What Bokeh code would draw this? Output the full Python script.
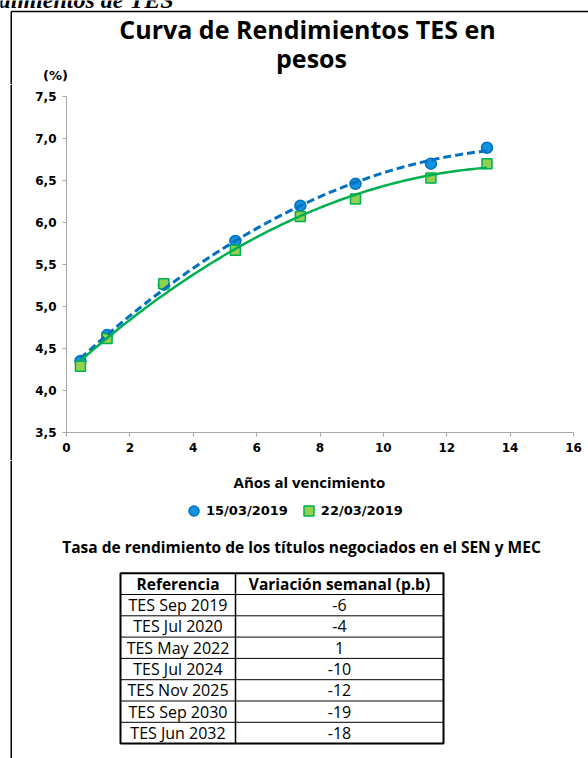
import numpy as np
from bokeh.plotting import figure
from bokeh.models import (Range1d, FixedTicker, CustomJSTickFormatter,
                          Legend, LegendItem, ColumnDataSource)
from bokeh.layouts import column, row
from bokeh.embed import file_html
from bokeh.resources import INLINE
from bokeh.core.properties import value

# ---------------- data ----------------
years = [0.44, 1.28, 3.07, 5.33, 7.38, 9.12, 11.50, 13.27]
y_1503 = [4.35, 4.66, 5.26, 5.78, 6.20, 6.46, 6.70, 6.89]
y_2203 = [4.29, 4.62, 5.27, 5.67, 6.07, 6.28, 6.53, 6.70]
series_names = ["15/03/2019", "22/03/2019"]
x_ticks = [0, 2, 4, 6, 8, 10, 12, 14, 16]
y_ticks = [3.5, 4.0, 4.5, 5.0, 5.5, 6.0, 6.5, 7.0, 7.5]
page_heading = "Rendimientos de TES"
title_lines = ["Curva de Rendimientos TES en", "pesos"]
y_unit = "(%)"
x_title = "Años al vencimiento"
table_title = "Tasa de rendimiento de los títulos negociados en el SEN y MEC"
table_header = ["Referencia", "Variación semanal (p.b)"]
ref_names = ["TES Sep 2019", "TES Jul 2020", "TES May 2022", "TES Jul 2024",
             "TES Nov 2025", "TES Sep 2030", "TES Jun 2032"]
weekly_change = [-6, -4, 1, -10, -12, -19, -18]

# ---------------- styles ----------------
BLUE_LINE = "#0070C0"
BLUE_FILL = "#1392E0"
GREEN_LINE = "#00B050"
GREEN_FILL = "#92D050"
AXIS_GRAY = "#A6A6A6"
TITLE_FONT = "Open Sans"
TICK_FONT = "DejaVu Sans"
BOX_X = 10.75      # left edge of the report box (page px)
BOX_Y = 11         # top edge of the report box (page px)

PAGE_W = 588
H0, H1, H2 = 84, 376, 298
BW = 12            # width of the strip that carries the box edge beside the chart


def blank(width, height, x0, x1, y_top, y_bottom):
    f = figure(width=width, height=height, x_range=Range1d(x0, x1),
               y_range=Range1d(y_bottom, y_top), output_backend="svg",
               toolbar_location=None, min_border=0,
               x_axis_location=None, y_axis_location=None)
    f.grid.visible = False
    f.outline_line_color = None
    return f


# ---------------- header strip (page coordinates) ----------------
t0 = blank(PAGE_W, H0, 0, PAGE_W, 0, H0)
t0.text(x=[173], y=[-1], text=[page_heading], text_align="right",
        text_baseline="middle", text_font=value("Liberation Serif"),
        text_font_style="bold italic", text_font_size="24px", text_color="black")
t0.segment(x0=[BOX_X, BOX_X], y0=[BOX_Y, BOX_Y], x1=[PAGE_W, BOX_X], y1=[BOX_Y, H0],
           line_color="black", line_width=1.5)
t0.text(x=[307, 311], y=[28.5, 57], text=title_lines, text_align="center",
        text_baseline="middle", text_font=value(TITLE_FONT),
        text_font_style="bold", text_font_size="25px", text_color="black")
t0.text(x=[55], y=[75], text=[y_unit], text_align="center", text_baseline="middle",
        text_font=value(TICK_FONT), text_font_style="bold", text_font_size="13px",
        text_color="black")

# ---------------- strip beside the chart ----------------
bstrip = blank(BW, H1, 0, BW, H0, H0 + H1)
bstrip.segment(x0=[BOX_X], y0=[H0], x1=[BOX_X], y1=[H0 + H1], line_color="black",
               line_width=1.5)

# ---------------- chart ----------------
p = figure(width=PAGE_W - BW, height=H1, x_range=Range1d(0, 16),
           y_range=Range1d(3.5, 7.5), output_backend="svg", toolbar_location=None,
           title=None, min_border_left=54, min_border_right=15, min_border_top=12,
           min_border_bottom=28)
p.grid.visible = False
p.outline_line_color = None

for ax in (p.xaxis[0], p.yaxis[0]):
    ax.axis_line_color = AXIS_GRAY
    ax.major_tick_line_color = AXIS_GRAY
    ax.major_tick_out = 4
    ax.major_tick_in = 0
    ax.minor_tick_line_color = None
    ax.major_label_text_font = TICK_FONT
    ax.major_label_text_font_style = "bold"
    ax.major_label_text_font_size = "12px"
    ax.major_label_text_color = "black"

p.xaxis.ticker = FixedTicker(ticks=x_ticks)
p.yaxis.ticker = FixedTicker(ticks=y_ticks)
p.yaxis.formatter = CustomJSTickFormatter(code="return tick.toFixed(1).replace('.', ',');")
p.xaxis.major_label_standoff = 6
p.yaxis.major_label_standoff = 6

src1 = ColumnDataSource(dict(x=years, y=y_1503))
src2 = ColumnDataSource(dict(x=years, y=y_2203))
marker1 = dict(marker="circle", fill_color=BLUE_FILL, line_color=BLUE_LINE, line_width=1.5)
marker2 = dict(marker="square", fill_color=GREEN_FILL, line_color=GREEN_LINE, line_width=1.5)

p.scatter("x", "y", source=src1, size=11, **marker1)
p.scatter("x", "y", source=src2, size=10, **marker2)

# polynomial (order 2) trendlines, as in the original spreadsheet chart
xs = np.linspace(min(years), max(years), 120)
fit1 = np.polyval(np.polyfit(years, y_1503, 2), xs)
fit2 = np.polyval(np.polyfit(years, y_2203, 2), xs)
p.line(xs, fit1, line_color=BLUE_LINE, line_width=3, line_dash="8 4")
p.line(xs, fit2, line_color=GREEN_LINE, line_width=2.5)

# ---------------- lower strip: axis title, legend, table (page coordinates) ----------------
Y0 = H0 + H1
t = blank(PAGE_W, H2, 0, PAGE_W, Y0, Y0 + H2)
t.segment(x0=[BOX_X], y0=[Y0], x1=[BOX_X], y1=[Y0 + H2], line_color="black",
          line_width=1.5)
t.text(x=[309], y=[481], text=[x_title], text_align="center", text_baseline="middle",
       text_font=value(TITLE_FONT), text_font_style="bold", text_font_size="15px",
       text_color="black")

# legend swatches: renderers with no drawable point, only used for the legend keys
nan = float("nan")
proxy1 = t.scatter(x=[nan], y=[nan], **marker1)
proxy2 = t.scatter(x=[nan], y=[nan], **marker2)
legend = Legend(items=[LegendItem(label=series_names[0], renderers=[proxy1]),
                       LegendItem(label=series_names[1], renderers=[proxy2])],
                location=(181, 235.5), orientation="horizontal")
legend.border_line_color = None
legend.background_fill_alpha = 0
legend.padding = 0
legend.margin = 0
legend.spacing = 8
legend.label_standoff = 0
legend.glyph_width = 25
legend.glyph_height = 25
legend.label_text_font = TICK_FONT
legend.label_text_font_style = "bold"
legend.label_text_font_size = "13px"
legend.label_text_color = "black"
legend.label_text_baseline = "middle"
t.add_layout(legend)

t.text(x=[301], y=[546], text=[table_title], text_align="center",
       text_baseline="middle", text_font=value(TITLE_FONT), text_font_style="bold",
       text_font_size="15.5px", text_color="black")

left, right, div, top, rh = 120, 443, 235, 572.7, 21.3
n = len(ref_names) + 1
bottom = top + n * rh
row_lines = [top + k * rh for k in range(1, n)]
t.segment(x0=[left] * len(row_lines), y0=row_lines, x1=[right] * len(row_lines),
          y1=row_lines, line_color="black", line_width=1)
t.segment(x0=[div], y0=[top], x1=[div], y1=[bottom], line_color="black", line_width=1.5)
t.quad(left=[left], right=[right], top=[top], bottom=[bottom], fill_alpha=0,
       line_color="black", line_width=2)

cx1 = (left + div) / 2
cx2 = (div + right) / 2
t.text(x=[cx1, cx2], y=[top + rh / 2] * 2, text=table_header, text_align="center",
       text_baseline="middle", text_font=value(TITLE_FONT), text_font_style="bold",
       text_font_size="15.5px", text_color="black")
row_y = [top + (i + 1.5) * rh for i in range(len(ref_names))]
t.text(x=[cx1] * len(ref_names), y=row_y, text=ref_names, text_align="center",
       text_baseline="middle", text_font=value(TITLE_FONT), text_font_size="16px",
       text_color="black")
t.text(x=[cx2] * len(ref_names), y=row_y, text=[str(v) for v in weekly_change],
       text_align="center", text_baseline="middle", text_font=value(TITLE_FONT),
       text_font_size="16px", text_color="black")

layout = column(column(t0), row(column(bstrip), p), column(t), spacing=0)
open("out.html", "w").write(file_html(layout, INLINE))
